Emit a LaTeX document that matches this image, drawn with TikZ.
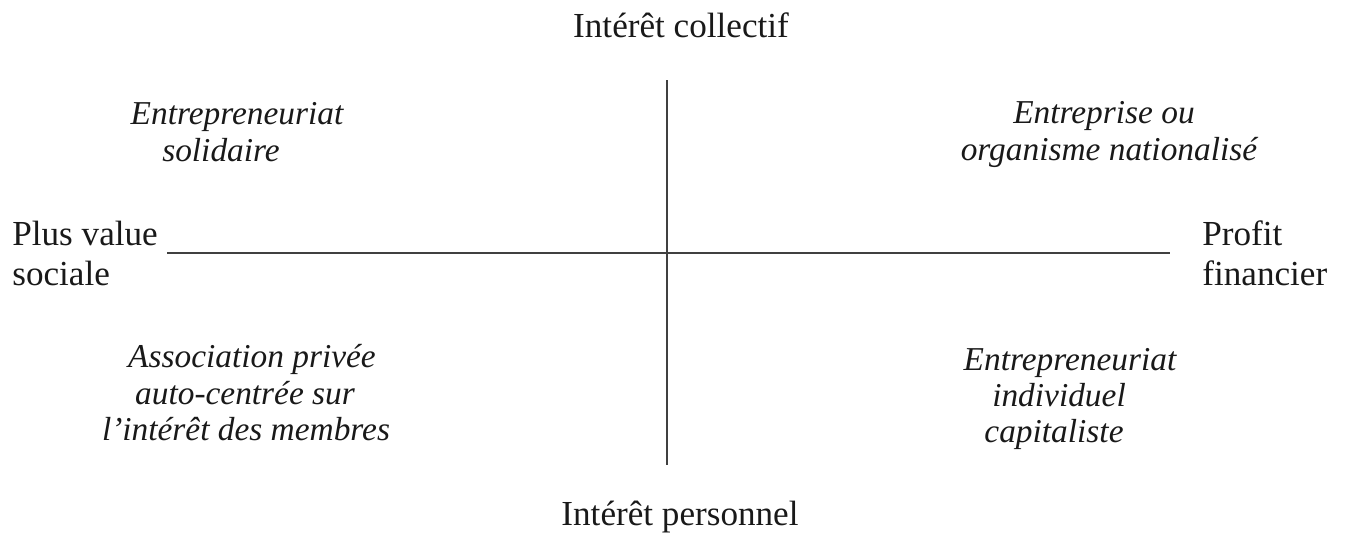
\documentclass[tikz,border=0pt]{standalone}
\usepackage{fontspec}
\setmainfont{Liberation Serif}
\begin{document}
\begin{tikzpicture}[x=0.02cm,y=-0.02cm,
  axislabel/.style={inner sep=0pt,anchor=base,text=black!90,font=\fontsize{20}{22}\selectfont},
  sidelabel/.style={axislabel,anchor=base west},
  quadtext/.style={inner sep=0pt,anchor=base,text=black!90,font=\fontsize{19}{21}\selectfont\itshape},
  axisline/.style={draw=black!75,line width=1.1pt}]
\useasboundingbox (0,0) rectangle (1349,535);

% axis ends
\coordinate (top) at (667,80);
\coordinate (bottom) at (667,465);
\coordinate (left) at (167,253);
\coordinate (right) at (1170,253);
\draw[axisline] (top) -- (bottom);
\draw[axisline] (left) -- (right);

% axis labels
\node[axislabel] (coll) at (681,37) {Intérêt collectif};
\node[axislabel] (pers) at (680,525) {Intérêt personnel};
\node[sidelabel] (plus1) at (12,245) {Plus value};
\node[sidelabel] (plus2) at (12,285) {sociale};
\node[sidelabel] (prof1) at (1202,245) {Profit};
\node[sidelabel] (prof2) at (1202,285) {financier};

% quadrants
\node[quadtext] (q1a) at (237,124) {Entrepreneuriat};
\node[quadtext] (q1b) at (221,161) {solidaire};
\node[quadtext] (q2a) at (1104,123) {Entreprise ou};
\node[quadtext] (q2b) at (1109,160) {organisme nationalisé};
\node[quadtext] (q3a) at (252,367) {Association privée};
\node[quadtext] (q3b) at (245,404) {auto-centrée sur};
\node[quadtext] (q3c) at (246,440) {l’intérêt des membres};
\node[quadtext] (q4a) at (1070,370) {Entrepreneuriat};
\node[quadtext] (q4b) at (1059,406) {individuel};
\node[quadtext] (q4c) at (1054,442) {capitaliste};
\end{tikzpicture}
\end{document}
